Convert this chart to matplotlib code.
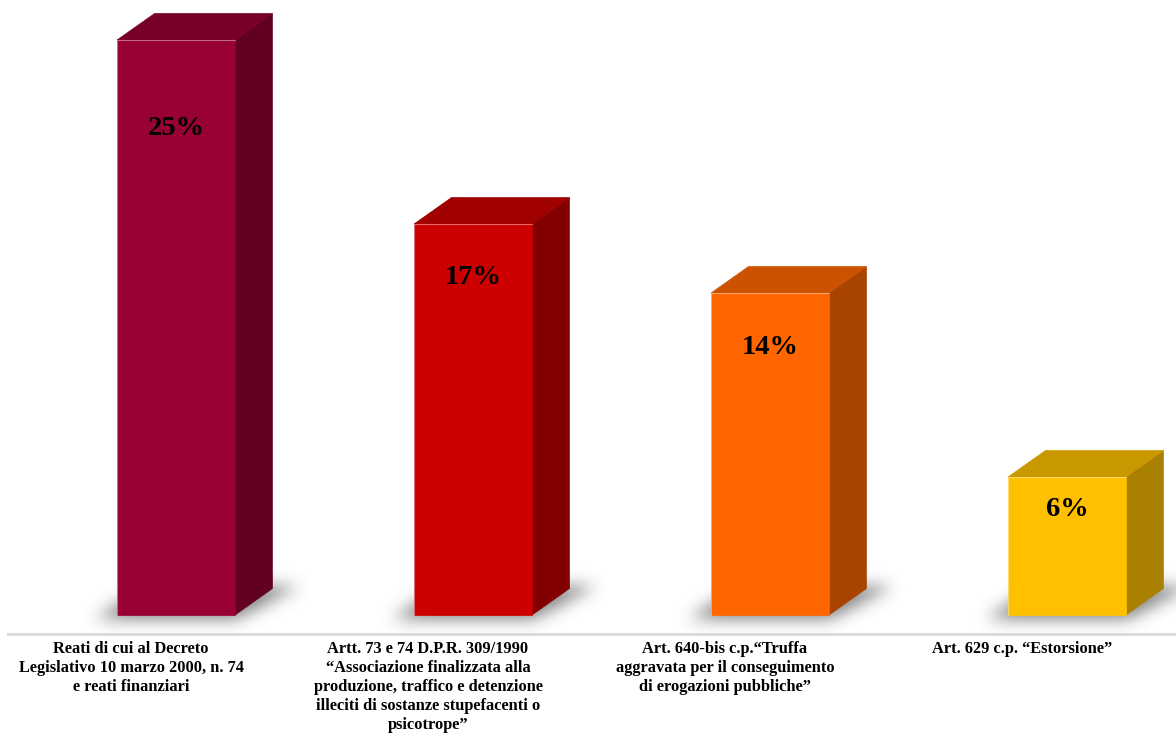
"""3D-style bar chart of offence shares"""
import numpy as np
import matplotlib
matplotlib.use("Agg")
import matplotlib.pyplot as plt
from matplotlib.patches import Polygon
from matplotlib.path import Path

categories = [
    "Reati di cui al Decreto\nLegislativo 10 marzo 2000, n. 74\ne reati finanziari",
    "Artt. 73 e 74 D.P.R. 309/1990\n“Associazione finalizzata alla\n"
    "produzione, traffico e detenzione\nilleciti di sostanze stupefacenti o\npsicotrope”",
    "Art. 640-bis c.p.“Truffa\naggravata per il conseguimento\ndi erogazioni pubbliche”",
    "Art. 629 c.p. “Estorsione”",
]
values = [25, 17, 14, 6]
value_labels = ["25%", "17%", "14%", "6%"]

front_colors = ["#990033", "#cc0000", "#ff6600", "#ffc000"]
top_colors = ["#780028", "#a00000", "#cc5200", "#c99700"]
side_colors = ["#620020", "#820000", "#a84300", "#a98000"]

# drop of the value label below the bar top, in pixels
label_drop = [88, 53, 54, 33]

# box geometry in data units (one category = 1 on x, one percent = 1 on y)
BAR_LEFT = -0.057
BAR_WIDTH = 0.397
DEPTH_X = 0.126
DEPTH_Y = 1.15
PX_PER_X = 297.0
PX_PER_Y = 23.0

SERIF = ["Liberation Serif", "DejaVu Serif"]


def gaussian_blur(arr, sigma):
    """Separable gaussian blur on a 2D array"""
    r = int(3 * sigma)
    k = np.exp(-0.5 * (np.arange(-r, r + 1) / sigma) ** 2)
    k /= k.sum()
    arr = np.apply_along_axis(lambda m: np.convolve(m, k, mode="same"), 0, arr)
    arr = np.apply_along_axis(lambda m: np.convolve(m, k, mode="same"), 1, arr)
    return arr


def draw_shadow(ax, left, right):
    """Soft floor shadow under one box"""
    x0, x1 = left - 0.3, right + DEPTH_X + 0.3
    y0, y1 = -3.0, DEPTH_Y + 2.5
    xs = np.arange(x0, x1, 1 / PX_PER_X)
    ys = np.arange(y0, y1, 1 / PX_PER_Y)
    gx, gy = np.meshgrid(xs, ys)
    outline = Path([(left - 0.075, -0.2), (right, -0.2),
                    (right + DEPTH_X + 0.09, DEPTH_Y + 0.1),
                    (left + DEPTH_X - 0.03, DEPTH_Y + 0.1)])
    mask = outline.contains_points(np.column_stack([gx.ravel(), gy.ravel()]))
    mask = mask.reshape(gx.shape).astype(float)
    alpha = gaussian_blur(mask, 8.0) * 0.7
    rgba = np.zeros(gx.shape + (4,))
    rgba[..., :3] = 0.3
    rgba[..., 3] = alpha
    ax.imshow(rgba, extent=(x0, x1, y0, y1), origin="lower",
              interpolation="bilinear", aspect="auto", zorder=1)


def draw_box(ax, i, value):
    left = i + BAR_LEFT
    right = left + BAR_WIDTH
    draw_shadow(ax, left, right)

    side = [(right, 0), (right + DEPTH_X, DEPTH_Y),
            (right + DEPTH_X, value + DEPTH_Y), (right, value)]
    top = [(left, value), (right, value),
           (right + DEPTH_X, value + DEPTH_Y), (left + DEPTH_X, value + DEPTH_Y)]
    front = [(left, 0), (right, 0), (right, value), (left, value)]

    ax.add_patch(Polygon(side, closed=True, facecolor=side_colors[i],
                         edgecolor=side_colors[i], lw=0.5, zorder=2))
    ax.add_patch(Polygon(top, closed=True, facecolor=top_colors[i],
                         edgecolor=top_colors[i], lw=0.5, zorder=2))
    ax.add_patch(Polygon(front, closed=True, facecolor=front_colors[i],
                         edgecolor=front_colors[i], lw=0.5, zorder=3))
    # light rim along the front face
    ax.plot([left, left, right], [0, value, value], color="white",
            alpha=0.35, lw=0.8, zorder=4)

    ax.annotate(value_labels[i], xy=(left + BAR_WIDTH / 2, value),
                xytext=(0, -label_drop[i]), textcoords="offset pixels",
                ha="center", va="center", fontsize=20.5, fontweight="bold",
                family=SERIF, color="black", zorder=5)


def main():
    fig = plt.figure(figsize=(11.76, 7.44), dpi=100)
    ax = fig.add_axes([0, 0, 1, 1])
    ax.axis("off")

    for i, v in enumerate(values):
        draw_box(ax, i, v)

    # category axis line
    ax.plot([-0.424, 3.6], [-0.83, -0.83], color="#d9d9d9", lw=2, zorder=1)

    for i, label in enumerate(categories):
        ax.text(i - 0.01, -1.15, label, ha="center", va="top", fontsize=11.8,
                fontweight="bold", family=SERIF, linespacing=1.25,
                multialignment="center", color="black")

    ax.set_xlim(-134 / PX_PER_X, (1176 - 134) / PX_PER_X)
    ax.set_ylim(-129 / PX_PER_Y, (744 - 129) / PX_PER_Y)
    fig.savefig("out.png", dpi=100, facecolor="white")


if __name__ == "__main__":
    main()
